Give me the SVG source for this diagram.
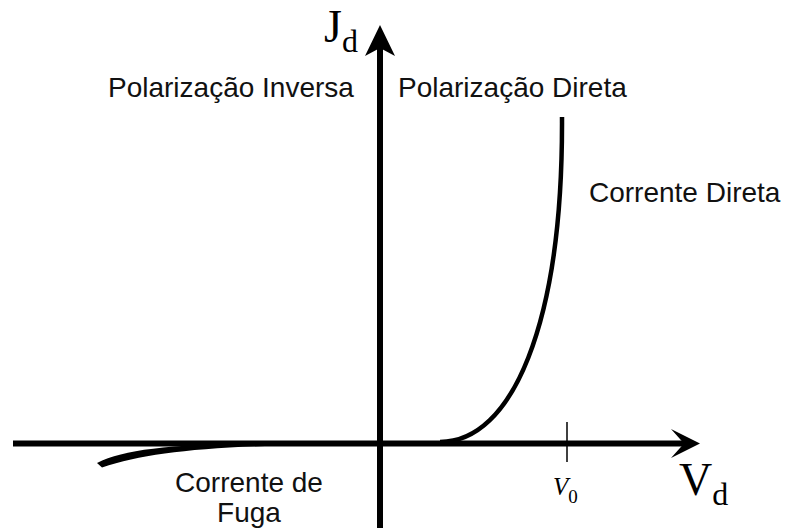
<svg xmlns="http://www.w3.org/2000/svg" width="785" height="528" viewBox="0 0 785 528">
<style>
.lbl{font-family:"Liberation Sans",Arial,sans-serif;font-size:28px;fill:#111}
.ser{font-family:"Liberation Serif","Times New Roman",serif;fill:#000}
.ax{stroke:#000;stroke-width:6;fill:none}
</style>
<rect width="785" height="528" fill="#fff"/>
<g id="axes">
  <line class="ax" x1="13" y1="443.5" x2="688" y2="443.5"/>
  <path d="M700,443.5 L671,429 L684,443.5 L671,458 Z" fill="#000"/>
  <line class="ax" x1="380" y1="528" x2="380" y2="40"/>
  <path d="M380,25 L365,56 L380,48 L395,56 Z" fill="#000"/>
  <line x1="567" y1="422" x2="567" y2="462" stroke="#000" stroke-width="1.5"/>
</g>
<g id="curves">
  <path d="M440,442 C512,442 563,325 562,117" fill="none" stroke="#000" stroke-width="4.5"/>
  <path d="M97,463 C125,449 170,445 265,442 L265,446 C185,449 140,455 102,467.5 Z" fill="#000"/>
</g>
<g id="labels">
  <text class="lbl" x="108" y="97">Polarização Inversa</text>
  <text class="lbl" x="398" y="97">Polarização Direta</text>
  <text class="lbl" x="589" y="202">Corrente Direta</text>
  <text class="lbl" x="249" y="492" text-anchor="middle">Corrente de</text>
  <text class="lbl" x="249" y="522" text-anchor="middle">Fuga</text>
  <text class="ser" x="324" y="42" font-size="46">J<tspan font-size="32" dy="10">d</tspan></text>
  <text class="ser" x="679" y="495" font-size="46">V<tspan font-size="32" dy="10">d</tspan></text>
  <text class="ser" x="553" y="495" font-size="25" font-style="italic">V<tspan font-style="normal" font-size="19" dy="8">0</tspan></text>
</g>
</svg>
